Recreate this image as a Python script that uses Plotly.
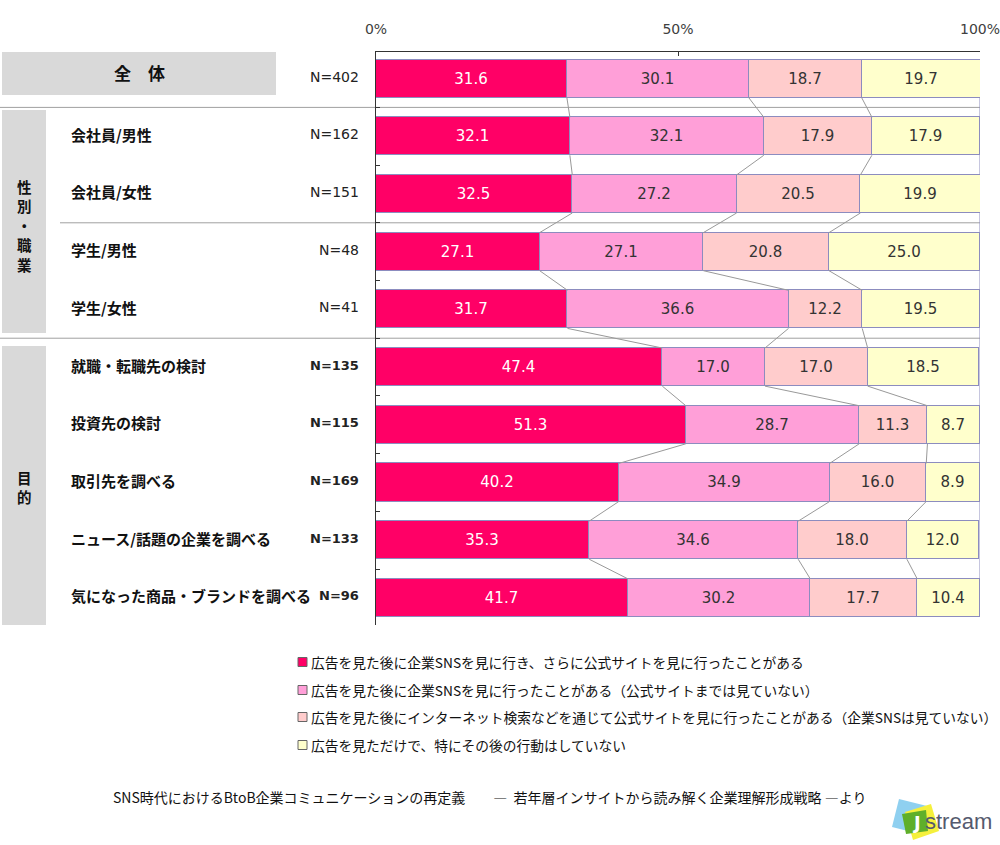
import plotly.graph_objects as go

# ---------------- data ----------------
categories = ["全体", "会社員/男性", "会社員/女性", "学生/男性", "学生/女性",
              "就職・転職先の検討", "投資先の検討", "取引先を調べる",
              "ニュース/話題の企業を調べる", "気になった商品・ブランドを調べる"]
n_labels = ["N=402", "N=162", "N=151", "N=48", "N=41",
            "N=135", "N=115", "N=169", "N=133", "N=96"]
series_names = [
    "広告を見た後に企業SNSを見に行き、さらに公式サイトを見に行ったことがある",
    "広告を見た後に企業SNSを見に行ったことがある（公式サイトまでは見ていない）",
    "広告を見た後にインターネット検索などを通じて公式サイトを見に行ったことがある（企業SNSは見ていない）",
    "広告を見ただけで、特にその後の行動はしていない",
]
s1 = [31.6, 32.1, 32.5, 27.1, 31.7, 47.4, 51.3, 40.2, 35.3, 41.7]
s2 = [30.1, 32.1, 27.2, 27.1, 36.6, 17.0, 28.7, 34.9, 34.6, 30.2]
s3 = [18.7, 17.9, 20.5, 20.8, 12.2, 17.0, 11.3, 16.0, 18.0, 17.7]
s4 = [19.7, 17.9, 19.9, 25.0, 19.5, 18.5, 8.7, 8.9, 12.0, 10.4]
series_values = [s1, s2, s3, s4]
x_ticks = [0, 50, 100]
x_tick_labels = ["0%", "50%", "100%"]
group_all = "全　体"
group_attr = ["性", "別", "・", "職", "業"]
group_purpose = ["目", "的"]
footer_text = "SNS時代におけるBtoB企業コミュニケーションの再定義　　―  若年層インサイトから読み解く企業理解形成戦略 ―より"

# ---------------- style ----------------
colors = ["#FF0066", "#FF9FD8", "#FFCCCC", "#FFFFCC"]
text_colors = ["#FFFFFF", "#333333", "#333333", "#333333"]
edge = "#8C8CBF"
JP = "Noto Sans CJK JP"
NUM = "DejaVu Sans"
W, H = 1000, 845
L, R, T, B = 376, 20, 52, 220
PW, PH = W - L - R, H - T - B
BAR_W = 0.66


def xp(px):
    return (px - L) / PW


def yp(py):
    return (H - B - py) / PH


ys = list(range(len(categories)))

fig = go.Figure()
for k, vals in enumerate(series_values):
    fig.add_trace(go.Bar(
        x=vals, y=ys, orientation="h", width=BAR_W, name=series_names[k],
        marker=dict(color=colors[k], line=dict(color=edge, width=1)),
        texttemplate="%{x:.1f}", textposition="inside", insidetextanchor="middle",
        textfont=dict(family=NUM, size=15, color=text_colors[k]),
        constraintext="none", showlegend=False, hoverinfo="skip",
    ))

# connector lines between consecutive bars
cum = [[0] * len(categories)]
for vals in series_values:
    cum.append([c + v for c, v in zip(cum[-1], vals)])
cx, cy = [], []
for k in (1, 2, 3):
    for i in range(len(categories) - 1):
        cx += [cum[k][i], cum[k][i + 1], None]
        cy += [i + BAR_W / 2, i + 1 - BAR_W / 2, None]
fig.add_trace(go.Scatter(x=cx, y=cy, mode="lines", line=dict(color="#999999", width=1),
                         showlegend=False, hoverinfo="skip"))

shapes = []
annotations = []

# separator lines
for yv, x0px in ((0.5, 0), (2.5, 60), (4.5, 0)):
    shapes.append(dict(type="line", xref="paper", yref="y", x0=xp(x0px), x1=1,
                       y0=yv, y1=yv, line=dict(color="#A0A0A0", width=1), layer="below"))
# right border line
shapes.append(dict(type="line", xref="x", yref="y", x0=100, x1=100,
                   y0=-BAR_W / 2, y1=len(categories) - 1 + BAR_W / 2,
                   line=dict(color=edge, width=1), layer="below"))

# group boxes
boxes = [(2, 52, 276, 95), (2, 110, 46, 333), (2, 346, 46, 625)]
for (x0, y0, x1, y1) in boxes:
    shapes.append(dict(type="rect", xref="paper", yref="paper", x0=xp(x0), x1=xp(x1),
                       y0=yp(y1), y1=yp(y0), fillcolor="#D9D9D9", line=dict(width=0),
                       layer="below"))


def label(text, x, y, size, xanchor="center", family=JP, color="#111111", yref="paper"):
    annotations.append(dict(text=text, xref="paper", yref=yref, x=x, y=y,
                            xanchor=xanchor, yanchor="middle", showarrow=False,
                            borderpad=0,
                            font=dict(family=family, size=size, color=color)))


label("<b>" + group_all + "</b>", xp(139), yp(73), 17)
for ch, py in zip(group_attr, [186, 205.5, 225, 244.5, 264]):
    label("<b>" + ch + "</b>", xp(24), yp(py), 14.5)
for ch, py in zip(group_purpose, [477, 496.5]):
    label("<b>" + ch + "</b>", xp(24), yp(py), 14.5)

# row labels and N labels
for i, (cat, nl) in enumerate(zip(categories, n_labels)):
    if i > 0:
        annotations.append(dict(text="<b>" + cat + "</b>", xref="paper", yref="y",
                                x=xp(69), y=i, xanchor="left", yanchor="middle",
                                showarrow=False, yshift=2,
                                font=dict(family=JP, size=15, color="#111111")))
    bold = i >= 5
    annotations.append(dict(text=("<b>" + nl + "</b>") if bold else nl,
                            xref="paper", yref="y", x=xp(361), y=i,
                            xanchor="right", yanchor="middle", showarrow=False, yshift=2,
                            font=dict(family=NUM, size=13 if bold else 14, color="#222222")))

# legend (manual)
leg_y = [662, 690, 717, 745]
for k, name in enumerate(series_names):
    shapes.append(dict(type="rect", xref="paper", yref="paper",
                       x0=xp(298), x1=xp(307), y0=yp(leg_y[k] + 4.5), y1=yp(leg_y[k] - 4.5),
                       fillcolor=colors[k], line=dict(color="#666666", width=1)))
    label(name, xp(310), yp(leg_y[k]), 13.75, xanchor="left")

# footer
label(footer_text, xp(489), yp(797), 14)


# logo
def path(pts):
    return "M " + " L ".join(f"{xp(a)},{yp(b)}" for a, b in pts) + " Z"


shapes.append(dict(type="path", xref="paper", yref="paper",
                   path=path([(899, 799), (927, 806), (920, 834), (892, 827)]),
                   fillcolor="#8FD0F0", line=dict(width=0)))
shapes.append(dict(type="path", xref="paper", yref="paper",
                   path=path([(905, 812), (931, 804), (939, 831), (913, 840)]),
                   fillcolor="#F5F03C", line=dict(width=0)))
shapes.append(dict(type="path", xref="paper", yref="paper",
                   path=path([(902, 814), (926, 810), (928, 831), (906, 834)]),
                   fillcolor="#5FAF2A", line=dict(width=0)))
label("<b>J</b>", xp(916), yp(822), 18, family="DejaVu Sans", color="#FFFFFF")
label("stream", xp(924), yp(821), 22, xanchor="left", family="Liberation Sans", color="#555A6E")

fig.update_layout(
    width=W, height=H, margin=dict(l=L, r=R, t=T, b=B, autoexpand=False),
    paper_bgcolor="white", plot_bgcolor="white", barmode="stack", bargap=0,
    showlegend=False, shapes=shapes, annotations=annotations,
    font=dict(family=JP),
)
fig.update_xaxes(range=[0, 100], side="top", tickvals=x_ticks, ticktext=x_tick_labels,
                 showline=True, linecolor="#333333", linewidth=1, ticks="inside", ticklen=4,
                 tickcolor="#333333", showgrid=False, zeroline=False, fixedrange=True,
                 tickfont=dict(family=NUM, size=14, color="#404040"), ticklabelstandoff=11,
                 ticklabeloverflow="allow")
fig.update_yaxes(range=[len(categories) - 1 + 0.47, -0.46], showline=True, linecolor="#333333",
                 linewidth=1, ticks="inside", ticklen=4, tickcolor="#333333",
                 tickvals=[i + 0.5 for i in range(len(categories) - 1)],
                 ticktext=[""] * (len(categories) - 1), showgrid=False, zeroline=False,
                 fixedrange=True)

fig.write_html("out.html")
